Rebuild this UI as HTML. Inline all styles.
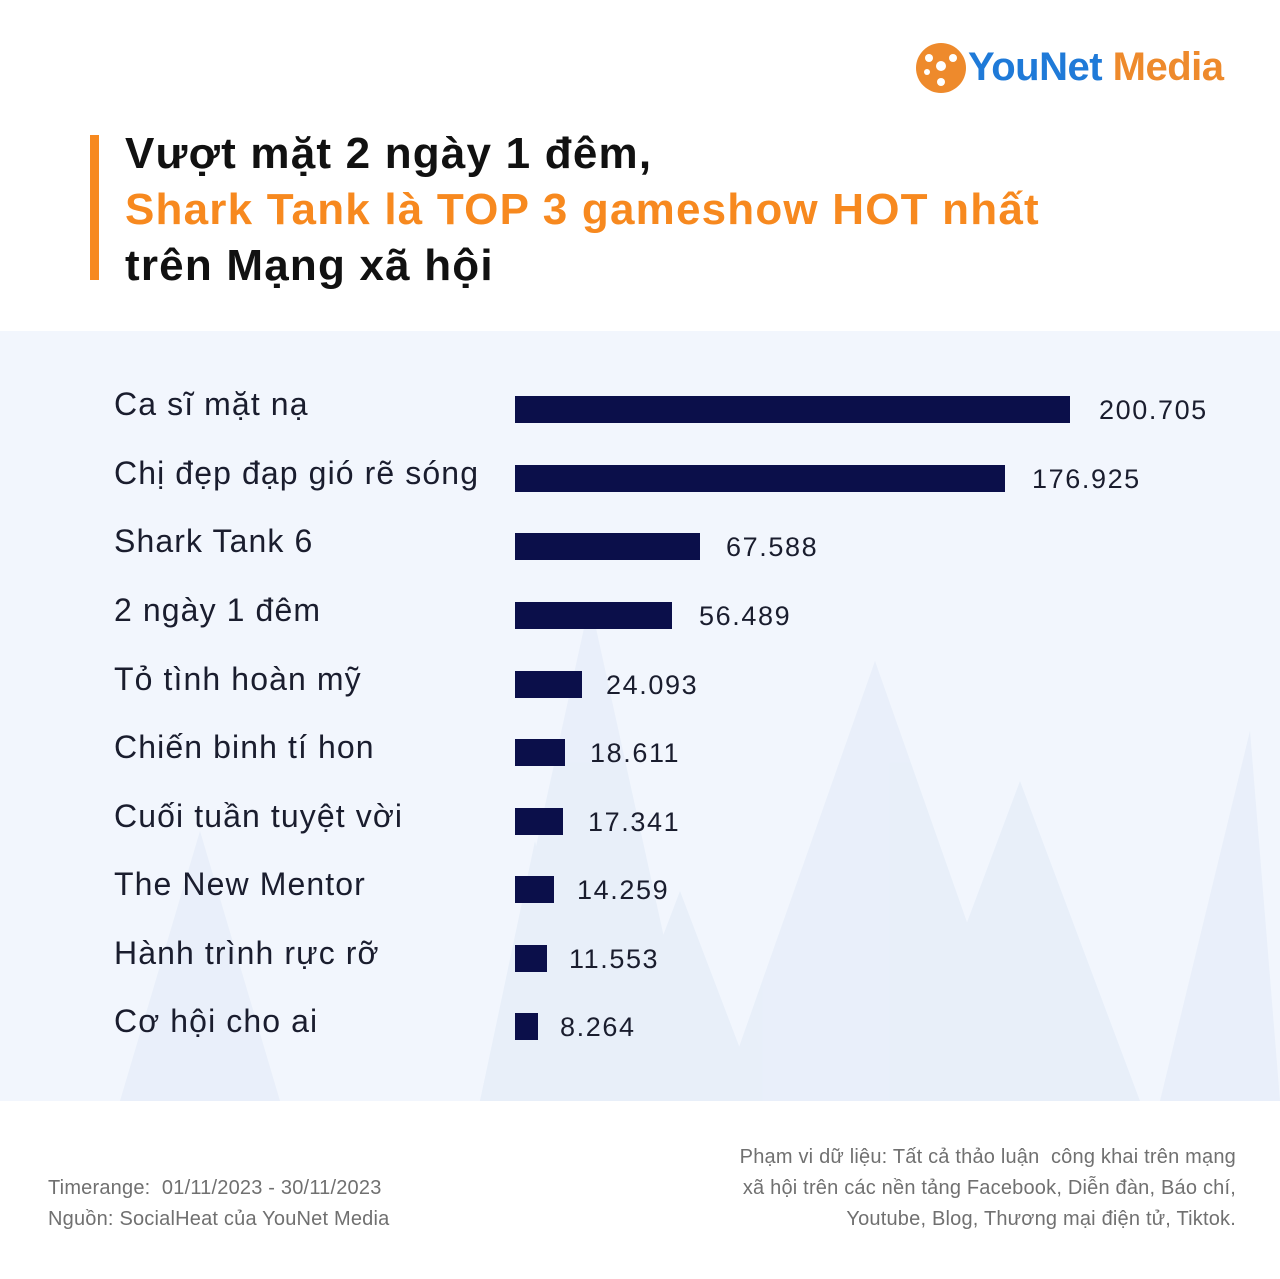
<!DOCTYPE html>
<html><head><meta charset="utf-8"><style>
body{margin:0;width:1280px;height:1279px;background:#fff;position:relative;overflow:hidden;font-family:"Liberation Sans",sans-serif}
.a{position:absolute;white-space:nowrap}
.t{font-weight:bold;font-size:44px;left:125px;letter-spacing:1.2px;color:#111}
.l{left:114px;font-size:32px;color:#1a1d2e;letter-spacing:1.1px;line-height:36px}
.b{position:absolute;left:515px;height:27px;background:#0b0f4a}
.v{font-size:27px;color:#1a1d2e;line-height:30px;letter-spacing:1.6px}
.f{font-size:20px;color:#707070;line-height:31px;letter-spacing:0.2px}
</style></head><body>
<svg class="a" style="left:915px;top:42px" width="52" height="52"><circle cx="26" cy="26" r="25" fill="#ee8a2c"/><circle cx="26" cy="24" r="5" fill="#fff"/><circle cx="14" cy="16" r="4" fill="#fff"/><circle cx="38" cy="16" r="4" fill="#fff"/><circle cx="26" cy="40" r="4" fill="#fff"/><circle cx="12" cy="30" r="3" fill="#fff"/></svg>
<div class="a" style="left:968px;top:45px;font-size:40px;font-weight:bold;color:#1f7ad8;letter-spacing:-0.5px">YouNet<span style="color:#ee8a2c"> Media</span></div>
<div class="a" style="left:90px;top:135px;width:9px;height:145px;background:#f7891f"></div>
<div class="a t" style="top:129px">Vượt mặt 2 ngày 1 đêm,</div>
<div class="a t" style="top:185px;color:#f7891f">Shark Tank là TOP 3 gameshow HOT nhất</div>
<div class="a t" style="top:241px">trên Mạng xã hội</div>
<div class="a" style="left:0;top:331px;width:1280px;height:770px;background:#f2f6fd">
<svg width="1280" height="770" style="position:absolute;left:0;top:0"><g fill="#e6eef9" opacity="0.8">
<polygon points="590,270 480,770 700,770"/><polygon points="875,330 720,770 1030,770"/><polygon points="1020,450 900,770 1140,770"/><polygon points="680,560 600,770 760,770"/><polygon points="200,500 120,770 280,770"/><polygon points="1250,400 1160,770 1280,770"/><polygon points="535,510 480,770 590,770"/></g></svg>
</div>
<div class="b" style="top:396px;width:555px"></div><div class="a l" style="top:386px">Ca sĩ mặt nạ</div><div class="a v" style="left:1099px;top:395px">200.705</div>
<div class="b" style="top:465px;width:490px"></div><div class="a l" style="top:455px">Chị đẹp đạp gió rẽ sóng</div><div class="a v" style="left:1032px;top:464px">176.925</div>
<div class="b" style="top:533px;width:185px"></div><div class="a l" style="top:523px">Shark Tank 6</div><div class="a v" style="left:726px;top:532px">67.588</div>
<div class="b" style="top:602px;width:157px"></div><div class="a l" style="top:592px">2 ngày 1 đêm</div><div class="a v" style="left:699px;top:601px">56.489</div>
<div class="b" style="top:671px;width:67px"></div><div class="a l" style="top:661px">Tỏ tình hoàn mỹ</div><div class="a v" style="left:606px;top:670px">24.093</div>
<div class="b" style="top:739px;width:50px"></div><div class="a l" style="top:729px">Chiến binh tí hon</div><div class="a v" style="left:590px;top:738px">18.611</div>
<div class="b" style="top:808px;width:48px"></div><div class="a l" style="top:798px">Cuối tuần tuyệt vời</div><div class="a v" style="left:588px;top:807px">17.341</div>
<div class="b" style="top:876px;width:39px"></div><div class="a l" style="top:866px">The New Mentor</div><div class="a v" style="left:577px;top:875px">14.259</div>
<div class="b" style="top:945px;width:32px"></div><div class="a l" style="top:935px">Hành trình rực rỡ</div><div class="a v" style="left:569px;top:944px">11.553</div>
<div class="b" style="top:1013px;width:23px"></div><div class="a l" style="top:1003px">Cơ hội cho ai</div><div class="a v" style="left:560px;top:1012px">8.264</div>
<div class="a f" style="left:48px;top:1173px">Timerange:&nbsp; 01/11/2023 - 30/11/2023<br>Nguồn: SocialHeat của YouNet Media</div>
<div class="a f" style="right:44px;top:1142px;text-align:right">Phạm vi dữ liệu: Tất cả thảo luận&nbsp; công khai trên mạng<br>xã hội trên các nền tảng Facebook, Diễn đàn, Báo chí,<br>Youtube, Blog, Thương mại điện tử, Tiktok.</div>
</body></html>
